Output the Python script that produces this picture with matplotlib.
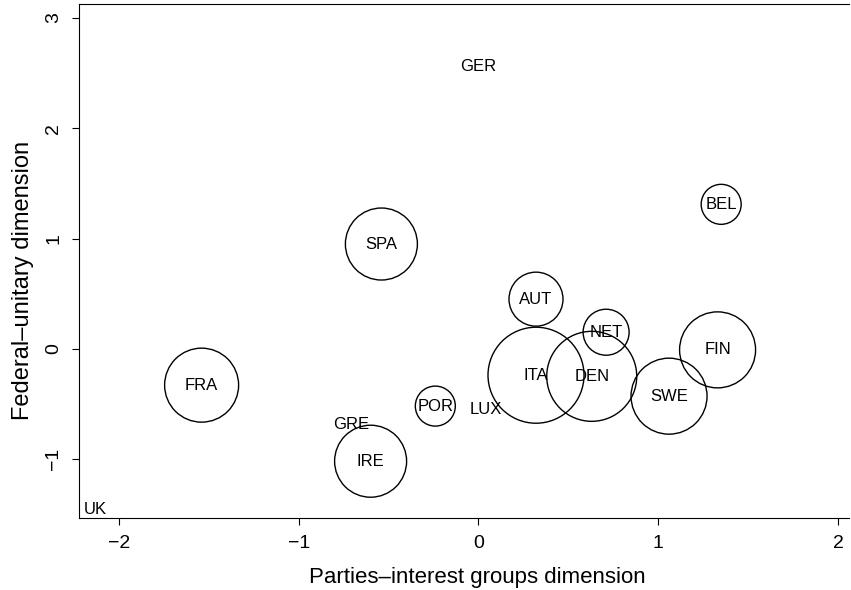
import numpy as np
import matplotlib.pyplot as plt

plt.rcParams['font.family'] = ['Liberation Sans', 'DejaVu Sans']

# country positions on the two dimensions
countries = ['GER', 'BEL', 'SPA', 'AUT', 'NET', 'ITA', 'DEN', 'SWE', 'FIN',
             'POR', 'LUX', 'GRE', 'IRE', 'FRA', 'UK']
parties_interest = [0.00, 1.35, -0.54, 0.32, 0.71, 0.32, 0.63, 1.06, 1.33,
                    -0.24, 0.04, -0.71, -0.60, -1.54, -2.13]
federal_unitary = [2.56, 1.31, 0.95, 0.45, 0.15, -0.24, -0.25, -0.43, -0.01,
                   -0.52, -0.55, -0.69, -1.02, -0.33, -1.46]
# bubble weight (radius units); zero = label only
weight = [0, 20, 36, 27, 23, 48, 45, 38, 38, 20, 0, 0, 36, 37, 0]

fig = plt.figure(figsize=(8.51, 5.90), dpi=100)
ax = fig.add_axes([79 / 851, 72 / 590, 770 / 851, 514 / 590])

w = np.array(weight, dtype=float)
sizes = (2 * w * 0.72) ** 2
mask = w > 0
ax.scatter(np.array(parties_interest)[mask], np.array(federal_unitary)[mask],
           s=sizes[mask], facecolors='none', edgecolors='black', linewidths=1.0)

for name, x, y in zip(countries, parties_interest, federal_unitary):
    ax.text(x, y, name, ha='center', va='center', fontsize=12)

ax.set_xlim(-2.222, 2.061)
ax.set_ylim(-1.535, 3.127)
ax.set_xticks([-2, -1, 0, 1, 2])
ax.set_yticks([-1, 0, 1, 2, 3])
ax.set_xticklabels(['\u22122', '\u22121', '0', '1', '2'])
ax.set_yticklabels(['\u22121', '0', '1', '2', '3'], rotation=90, va='center')
ax.tick_params(direction='out', length=5, width=0.8, labelsize=14, pad=7)
ax.set_xlabel('Parties\u2013interest groups dimension', fontsize=16)
ax.set_ylabel('Federal\u2013unitary dimension', fontsize=17)
ax.xaxis.set_label_coords(0.517, -0.095)
ax.yaxis.set_label_coords(-0.058, 0.463)
ax.spines['right'].set_visible(False)

fig.savefig('out.png', dpi=100)
